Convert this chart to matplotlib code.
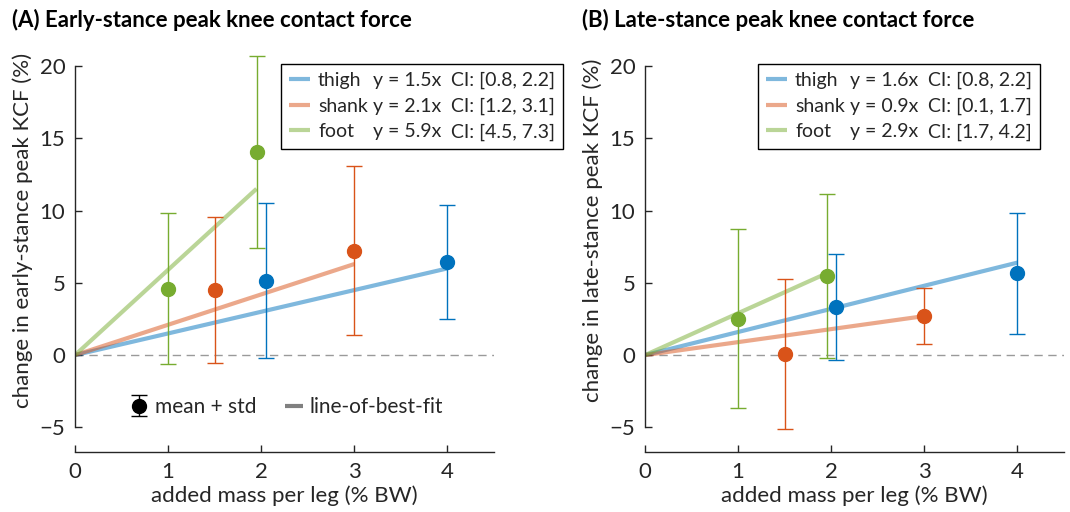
import numpy as np
import matplotlib
matplotlib.use('Agg')
import matplotlib.pyplot as plt
from matplotlib.lines import Line2D

plt.rcParams['font.family'] = ['Lato', 'DejaVu Sans']

# segment order: thigh, shank, foot
segments = ['thigh', 'shank', 'foot']
seg_colors = ['#0072BD', '#D95319', '#77AC30']
added_mass = [[2.05, 4.0], [1.5, 3.0], [1.0, 1.95]]

# (A) early-stance
early_mean = [[5.16, 6.44], [4.52, 7.22], [4.60, 14.05]]
early_std = [[5.34, 3.95], [5.05, 5.84], [5.20, 6.65]]
early_slope = [1.5, 2.1, 5.9]
early_ci = [[0.8, 2.2], [1.2, 3.1], [4.5, 7.3]]

# (B) late-stance
late_mean = [[3.31, 5.65], [0.05, 2.71], [2.52, 5.48]]
late_std = [[3.66, 4.18], [5.19, 1.95], [6.20, 5.66]]
late_slope = [1.6, 0.9, 2.9]
late_ci = [[0.8, 2.2], [0.1, 1.7], [1.7, 4.2]]

xticks = [0, 1, 2, 3, 4]
yticks = [-5, 0, 5, 10, 15, 20]

textColor = '#262626'
fs = 16
legFs = 14

errKwargs = {}
errKwargs['fmt'] = 'o'
errKwargs['markersize'] = 10
errKwargs['elinewidth'] = 1
errKwargs['capsize'] = 6
errKwargs['capthick'] = 1
errKwargs['zorder'] = 3


def draw_panel(ax, means, stds, slopes, cis, ylabel, title, title_x, key_x):
    # lines of best fit through the origin
    fit_handles = []
    for i in range(len(segments)):
        xs = np.array([0, max(added_mass[i])])
        line, = ax.plot(xs, slopes[i] * xs, color=seg_colors[i], alpha=0.5,
                        lw=3, solid_capstyle='butt', zorder=2)
        fit_handles.append(line)
    ax.axhline(0, color='#9a9a9a', lw=1, ls=(0, (6, 4)), zorder=1)

    for i in range(len(segments)):
        ax.errorbar(added_mass[i], means[i], yerr=stds[i], color=seg_colors[i], **errKwargs)

    ax.set_xlim(0, 4.5)
    ax.set_ylim(-6.7, 21)
    ax.set_xticks(xticks)
    ax.set_yticks(yticks)
    ax.spines['left'].set_bounds(-5, 20)
    for side in ['top', 'right']:
        ax.spines[side].set_visible(False)
    for side in ['left', 'bottom']:
        ax.spines[side].set_color(textColor)
        ax.spines[side].set_linewidth(1)
    ax.tick_params(direction='in', length=5, width=1, colors=textColor,
                   labelsize=fs, pad=7)
    ax.set_xlabel('added mass per leg (% BW)', fontsize=fs, color=textColor, labelpad=3)
    ax.set_ylabel(ylabel, fontsize=fs, color=textColor)
    ax.yaxis.set_label_coords(-0.1, 0.554)
    fig.text(title_x, 0.947, title, fontsize=fs, fontweight='bold',
             color='black', va='baseline', ha='left')

    # key with three aligned columns (handle+name, equation, CI)
    blank = Line2D([], [], color='none')
    labels = segments + ['y = %.1fx ' % s for s in slopes] + \
        ['CI: [%.1f, %.1f]' % (c[0], c[1]) for c in cis]
    leg = ax.legend(fit_handles + [blank] * 6, labels, ncol=3, loc='upper left',
                    bbox_to_anchor=(key_x, 0.968),
                    borderaxespad=0, fontsize=legFs, handlelength=1.1,
                    handletextpad=0.4, columnspacing=-1.25, labelspacing=0.44,
                    borderpad=0.4, fancybox=False, edgecolor='black',
                    framealpha=1, labelcolor=textColor)
    leg.get_frame().set_linewidth(1)
    for h in leg.legend_handles[:3]:
        h.set_linewidth(3)
    return leg


fig = plt.figure(figsize=(10.7, 5.12), dpi=100)
axA = fig.add_axes([75 / 1070, 1 - 452 / 512, 419 / 1070, 400.5 / 512])
axB = fig.add_axes([645 / 1070, 1 - 452 / 512, 419 / 1070, 400.5 / 512])
axA.set_zorder(2)

legA = draw_panel(axA, early_mean, early_std, early_slope, early_ci,
                  'change in early-stance peak KCF (%)',
                  '(A) Early-stance peak knee contact force', 12 / 1070, 0.492)
draw_panel(axB, late_mean, late_std, late_slope, late_ci,
           'change in late-stance peak KCF (%)',
           '(B) Late-stance peak knee contact force', 582 / 1070, 0.27)

# marker / line key in panel A
axA.add_artist(legA)
eb = axA.errorbar([np.nan], [np.nan], yerr=[1], color='black', **errKwargs)
fitKey = Line2D([], [], color='#808080', lw=3, solid_capstyle='butt')
key2 = axA.legend([eb, fitKey], ['mean + std', 'line-of-best-fit'], ncol=2,
                  loc='center left', bbox_to_anchor=(0.131, 0.112), borderaxespad=0,
                  borderpad=0, frameon=False, fontsize=15, handlelength=0.9,
                  handletextpad=0.3, columnspacing=1.35, labelcolor=textColor)

fig.savefig('out.png', dpi=100)
